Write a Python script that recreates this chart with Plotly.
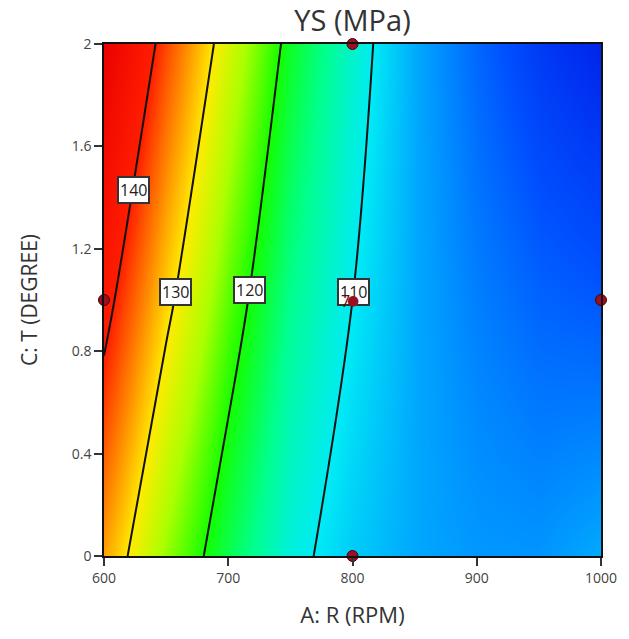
import numpy as np
import plotly.graph_objects as go

# ---- data ----
rpm = [600, 650, 700, 750, 800, 850, 900, 950, 1000]          # A: R (RPM)
degree = [0, 1, 2]                                              # C: T (DEGREE)
ys_at_0 = [133.5, 124.3, 117.2, 111.2, 108.0, 105.8, 104.8, 104.6, 106.0]
ys_at_1 = [141.8, 131.15, 122.4, 114.9, 110.0, 105.9, 103.15, 101.3, 100.5]
ys_at_2 = [149.7, 138.0, 127.6, 118.65, 112.0, 106.0, 101.5, 98.0, 96.0]
levels = [110, 120, 130, 140]
design_rpm = [800, 600, 800, 1000, 800]
design_deg = [2, 1, 1, 1, 0]
center_count = "7"

z = [ys_at_0, ys_at_1, ys_at_2]

colorscale = [
    [0.0000, "rgb(0,25,230)"],
    [0.0909, "rgb(0,80,255)"],
    [0.1818, "rgb(0,155,255)"],
    [0.2727, "rgb(0,235,245)"],
    [0.3636, "rgb(0,255,140)"],
    [0.4545, "rgb(20,255,0)"],
    [0.5455, "rgb(170,255,0)"],
    [0.6364, "rgb(255,235,0)"],
    [0.7273, "rgb(255,130,0)"],
    [0.8182, "rgb(255,30,0)"],
    [1.0000, "rgb(235,0,0)"],
]

fig = go.Figure()
fig.add_trace(go.Contour(
    x=rpm, y=degree, z=z,
    zmin=95, zmax=150, colorscale=colorscale, showscale=False,
    contours=dict(start=levels[0], end=levels[-1], size=10, coloring="heatmap"),
    line=dict(color="#111", width=2),
    hoverinfo="skip",
))
fig.add_trace(go.Scatter(
    x=design_rpm, y=design_deg, mode="markers",
    marker=dict(size=11, color="#9b1020", line=dict(color="#4a0008", width=1)),
    cliponaxis=False, hoverinfo="skip",
))

# contour label boxes, placed where each level crosses a chosen row
def crossing(row, level):
    r = np.array(row)[::-1]
    xs = np.array(rpm)[::-1]
    return float(np.interp(level, r, xs))

label_rows = {140: 1.43, 130: 1.03, 120: 1.04, 110: 1.03}
annotations = []
for lv in levels:
    yy = label_rows[lv]
    row = [a + (b - a) * (yy - 1) for a, b in zip(ys_at_1, ys_at_2)]
    xx = crossing(row, lv)
    annotations.append(dict(
        x=xx, y=yy, xref="x", yref="y", text=str(lv), showarrow=False,
        font=dict(size=16, color="#222", family="Open Sans"),
        bgcolor="white", bordercolor="#333", borderwidth=2, borderpad=1,
    ))
# centre point replicate count and dot shown on top of label
annotations.append(dict(
    x=design_rpm[2], y=design_deg[2], xref="x", yref="y", text=center_count,
    showarrow=False, xanchor="right", xshift=-1, yshift=-1,
    font=dict(size=16, color="#5a0a10", family="Open Sans"),
))
annotations.append(dict(
    x=design_rpm[2], y=design_deg[2], xref="x", yref="y", text="●",
    showarrow=False, font=dict(size=14, color="#9b1020", family="DejaVu Sans"),
))

axis_common = dict(
    showline=True, linecolor="#111", linewidth=1.5, mirror=True,
    ticks="outside", ticklen=8, tickcolor="#333", tickwidth=1.5,
    showgrid=False, zeroline=False,
    tickfont=dict(size=14, color="#444", family="Open Sans"),
)

fig.update_layout(
    width=629, height=639,
    margin=dict(l=104, r=24, t=44, b=83),
    paper_bgcolor="white", plot_bgcolor="white",
    showlegend=False,
    title=dict(text="YS (MPa)", x=0.5, xref="paper", y=1 - 21 / 639, yref="container",
               xanchor="center", yanchor="middle",
               font=dict(size=29, color="#333", family="Open Sans")),
    xaxis=dict(range=[600, 1000], tickvals=[600, 700, 800, 900, 1000],
               title=dict(text="A: R (RPM)", standoff=22,
                          font=dict(size=22, color="#333", family="Open Sans")),
               **axis_common),
    yaxis=dict(range=[0, 2], tickvals=[0, 0.4, 0.8, 1.2, 1.6, 2],
               ticktext=["0", "0.4", "0.8", "1.2", "1.6", "2"],
               title=dict(text="C: T (DEGREE)", standoff=28,
                          font=dict(size=21, color="#333", family="Open Sans")),
               **axis_common),
    annotations=annotations,
)

fig.write_html("out.html")
